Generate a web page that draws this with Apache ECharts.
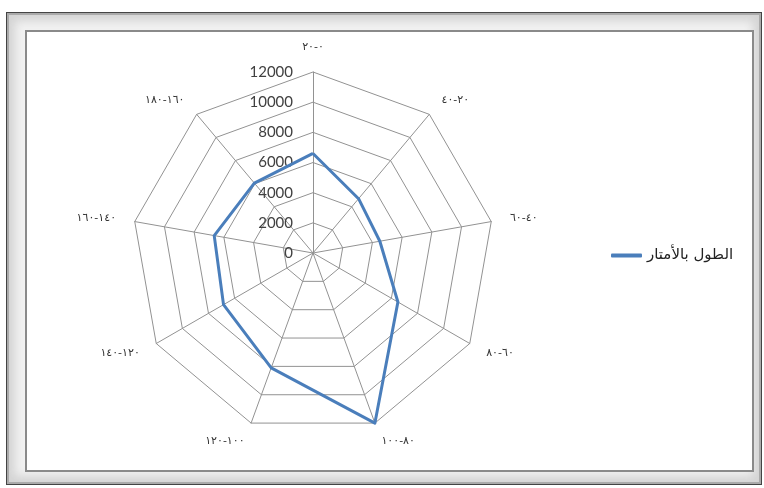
<!DOCTYPE html>
<html>
<head>
<meta charset="utf-8">
<script src="https://cdn.jsdelivr.net/npm/echarts@6/dist/echarts.min.js"></script>
<style>
html,body{margin:0;padding:0;background:#fff;width:764px;height:488px;overflow:hidden;}
#outer{position:absolute;left:6px;top:12px;width:754px;height:471px;border:1px solid #444;
  box-shadow: inset 0 0 0 2px #aaa, inset 0 0 10px 8px #d4d4d4;background:#f2f2f2;}
#inner{position:absolute;left:25px;top:30px;width:725px;height:438px;border:2px solid #8a8a8a;background:#fff;}
#chart{position:absolute;left:0;top:0;width:764px;height:488px;}
</style>
</head>
<body>
<div id="outer"></div>
<div id="inner"></div>
<div id="chart"></div>
<script>
const categories = ['٠-٢٠','٢٠-٤٠','٤٠-٦٠','٦٠-٨٠','٨٠-١٠٠','١٠٠-١٢٠','١٢٠-١٤٠','١٤٠-١٦٠','١٦٠-١٨٠'];
const values = [6600, 4700, 4500, 6500, 12000, 8100, 6850, 6650, 6050];
const seriesName = 'الطول بالأمتار';
const axisMax = 12000;
const axisSplits = 6;

// ECharts lays radar indicators counter-clockwise; the reference runs clockwise.
const order = [0].concat(categories.map((c, i) => i).slice(1).reverse());
const indicator = order.map((i, k) => {
  const ind = { name: categories[i], min: 0, max: axisMax };
  if (k === 0) ind.axisLabel = { show: true };
  return ind;
});
const data = order.map(i => values[i]);

const chart = echarts.init(document.getElementById('chart'), null, {renderer: 'canvas'});
chart.setOption({
  animation: false,
  backgroundColor: 'transparent',
  legend: {
    orient: 'vertical',
    left: 606, top: 243,
    icon: 'roundRect',
    itemWidth: 31, itemHeight: 4, itemGap: 8,
    textStyle: { fontFamily: 'DejaVu Sans', fontSize: 15, color: '#222' },
    data: [seriesName]
  },
  radar: {
    center: [313, 253],
    radius: 181,
    startAngle: 90,
    shape: 'polygon',
    splitNumber: axisSplits,
    indicator: indicator,
    axisName: { color: '#333', fontSize: 11, fontFamily: 'DejaVu Sans' },
    nameGap: 19,
    axisLine: { lineStyle: { color: '#929292', width: 1 } },
    splitLine: { lineStyle: { color: '#929292', width: 1 } },
    splitArea: { show: false },
    axisTick: { show: false },
    axisLabel: { show: false, color: '#404040', fontSize: 15, fontFamily: 'Lato', margin: 20,
      formatter: v => String(v) }
  },
  series: [{
    name: seriesName,
    type: 'radar',
    symbol: 'none',
    lineStyle: { color: '#4a7ebb', width: 3 },
    itemStyle: { color: '#4a7ebb' },
    data: [{ value: data, name: seriesName }]
  }]
});
</script>
</body>
</html>
